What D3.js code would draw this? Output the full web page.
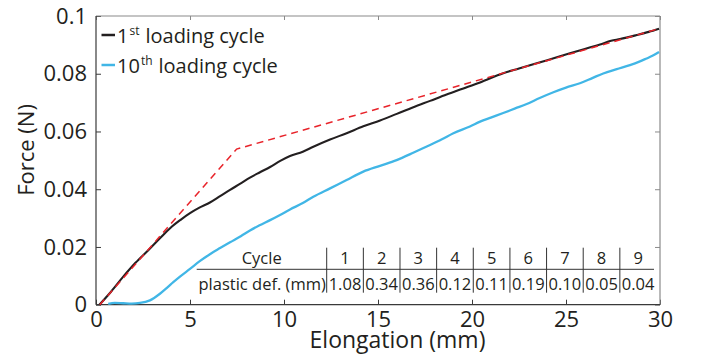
<!DOCTYPE html>
<html>
<head>
<meta charset="utf-8">
<script src="https://cdn.jsdelivr.net/npm/d3@7"></script>
<style>
  html, body { margin: 0; padding: 0; background: #fff; }
  svg { display: block; font-family: "Open Sans", "Noto Sans", sans-serif; }
</style>
</head>
<body>
<svg id="chart" width="702" height="356"></svg>
<script>
// ---------- data ----------
const xTicks = [0, 5, 10, 15, 20, 25, 30];
const xTickLabels = ["0", "5", "10", "15", "20", "25", "30"];
const yTicks = [0, 0.02, 0.04, 0.06, 0.08, 0.1];
const yTickLabels = ["0", "0.02", "0.04", "0.06", "0.08", "0.1"];

// 1st loading cycle (black)
const cycle1X = [0.18, 0.8, 1.45, 2.1, 2.78, 3.4, 3.94, 4.5, 5.0, 5.5, 6.06, 6.6, 7.13, 7.7, 8.19, 8.7, 9.26, 9.8, 10.32, 11.0, 11.56, 12.45, 13.33, 14.22, 15.11, 16.0, 16.88, 17.77, 18.65, 19.5, 20.43, 21.66, 22.5, 23.44, 24.3, 25.21, 26.0, 26.81, 27.4, 27.87, 28.76, 29.4, 29.95];
const cycle1F = [0.0, 0.0045, 0.0097, 0.0145, 0.0189, 0.0230, 0.0265, 0.0294, 0.0317, 0.0336, 0.0354, 0.0376, 0.0398, 0.0420, 0.0440, 0.0458, 0.0477, 0.0498, 0.0515, 0.0530, 0.0547, 0.0572, 0.0594, 0.0618, 0.0638, 0.0661, 0.0684, 0.0706, 0.0728, 0.0748, 0.0770, 0.0802, 0.0818, 0.0836, 0.0853, 0.0871, 0.0886, 0.0901, 0.0914, 0.0920, 0.0934, 0.0945, 0.0956];

// 10th loading cycle (blue)
const cycle10X = [0.65, 1.0, 1.45, 1.9, 2.34, 2.87, 3.4, 3.8, 4.11, 4.5, 5.0, 5.5, 6.06, 6.6, 7.13, 7.7, 8.19, 8.7, 9.26, 9.79, 10.32, 11.0, 11.56, 12.45, 13.33, 14.22, 15.11, 15.99, 16.9, 17.77, 18.4, 19.01, 19.89, 20.43, 21.0, 21.66, 22.3, 22.91, 23.6, 24.33, 25.0, 25.74, 26.4, 26.98, 27.7, 28.4, 28.9, 29.29, 29.6, 29.95];
const cycle10F = [0.0003, 0.0006, 0.0005, 0.0004, 0.0006, 0.0015, 0.0038, 0.0060, 0.0078, 0.0099, 0.0124, 0.0150, 0.0175, 0.0196, 0.0216, 0.0237, 0.0257, 0.0275, 0.0293, 0.0311, 0.0330, 0.0352, 0.0374, 0.0403, 0.0432, 0.0461, 0.0481, 0.0501, 0.0527, 0.0553, 0.0573, 0.0594, 0.0617, 0.0634, 0.0648, 0.0664, 0.0680, 0.0695, 0.0716, 0.0736, 0.0752, 0.0767, 0.0785, 0.0801, 0.0816, 0.0830, 0.0842, 0.0853, 0.0862, 0.0875];

// bilinear fit (red dashed)
const fitX = [0.2, 7.48, 30];
const fitF = [0.0, 0.0539, 0.0957];

// plastic deformation table
const cycles = ["1", "2", "3", "4", "5", "6", "7", "8", "9"];
const plasticDef = ["1.08", "0.34", "0.36", "0.12", "0.11", "0.19", "0.10", "0.05", "0.04"];

// ---------- layout ----------
const svg = d3.select("#chart");
const margin = { left: 96, right: 42, top: 16, bottom: 51.3 };
const W = 702, H = 356;
const x = d3.scaleLinear().domain([0, 30]).range([margin.left, W - margin.right]);
const y = d3.scaleLinear().domain([0, 0.1]).range([H - margin.bottom, margin.top]);

const textColor = "#231f20";
const axisDark = "#3a3a3a";
const axisLight = "#8a8a8a";

function styleAxis(g, color, labels) {
  g.select(".domain").remove();
  g.selectAll(".tick line").attr("stroke", color).attr("stroke-width", 1);
  g.selectAll(".tick text")
    .attr("fill", textColor)
    .attr("font-size", 22)
    .attr("font-family", "'Open Sans', sans-serif");
  if (!labels) g.selectAll(".tick text").remove();
}

svg.append("g")
  .attr("transform", `translate(0,${y(0)})`)
  .call(d3.axisBottom(x).tickValues(xTicks).tickFormat((d, i) => xTickLabels[i]).tickSizeInner(-5).tickSizeOuter(0).tickPadding(6.5))
  .call(g => styleAxis(g, axisDark, true));

svg.append("g")
  .attr("transform", `translate(0,${y(0.1)})`)
  .call(d3.axisTop(x).tickValues(xTicks).tickSizeInner(-4).tickSizeOuter(0))
  .call(g => styleAxis(g, axisLight, false));

svg.append("g")
  .attr("transform", `translate(${x(0)},0)`)
  .call(d3.axisLeft(y).tickValues(yTicks).tickFormat((d, i) => yTickLabels[i]).tickSizeInner(-5).tickSizeOuter(0).tickPadding(9))
  .call(g => styleAxis(g, axisDark, true));

svg.append("g")
  .attr("transform", `translate(${x(30)},0)`)
  .call(d3.axisRight(y).tickValues(yTicks).tickSizeInner(-5).tickSizeOuter(0))
  .call(g => styleAxis(g, axisLight, false));

// frame lines
svg.append("line").attr("x1", x(0)).attr("x2", x(30)).attr("y1", y(0.1)).attr("y2", y(0.1)).attr("stroke", axisLight).attr("stroke-width", 1.2);
svg.append("line").attr("x1", x(30)).attr("x2", x(30)).attr("y1", y(0)).attr("y2", y(0.1)).attr("stroke", axisLight).attr("stroke-width", 1.2);
svg.append("line").attr("x1", x(0)).attr("x2", x(0)).attr("y1", y(0)).attr("y2", y(0.1)).attr("stroke", axisDark).attr("stroke-width", 1.2);
svg.append("line").attr("x1", x(0)).attr("x2", x(30)).attr("y1", y(0)).attr("y2", y(0)).attr("stroke", axisDark).attr("stroke-width", 1.2);

// axis titles
svg.append("text")
  .attr("x", x(15) + 19.5).attr("y", 348)
  .attr("text-anchor", "middle")
  .attr("font-size", 23).attr("fill", textColor)
  .text("Elongation (mm)");

svg.append("text")
  .attr("transform", `translate(34,${150}) rotate(-90)`)
  .attr("text-anchor", "middle")
  .attr("font-size", 22).attr("fill", textColor)
  .text("Force (N)");

// lines
const line = d3.line().x(d => x(d[0])).y(d => y(d[1])).curve(d3.curveMonotoneX);
const zip = (a, b) => a.map((v, i) => [v, b[i]]);

svg.append("path")
  .datum(zip(cycle10X, cycle10F))
  .attr("d", line).attr("fill", "none")
  .attr("stroke", "#41b6e6").attr("stroke-width", 2.3);

svg.append("path")
  .datum(zip(cycle1X, cycle1F))
  .attr("d", line).attr("fill", "none")
  .attr("stroke", "#231f20").attr("stroke-width", 2.1);

svg.append("path")
  .datum(zip(fitX, fitF))
  .attr("d", d3.line().x(d => x(d[0])).y(d => y(d[1])))
  .attr("fill", "none")
  .attr("stroke", "#e8232a").attr("stroke-width", 1.5)
  .attr("stroke-dasharray", "7,5");

// legend
const legend = [
  { num: "1", sup: "st", color: "#231f20", yy: 35 },
  { num: "10", sup: "th", color: "#41b6e6", yy: 65 }
];
legend.forEach(L => {
  svg.append("line")
    .attr("x1", 101.5).attr("x2", 115).attr("y1", L.yy).attr("y2", L.yy)
    .attr("stroke", L.color).attr("stroke-width", 2.5);
  const t = svg.append("text")
    .attr("x", 117).attr("y", L.yy + 8)
    .attr("font-size", 20).attr("fill", textColor);
  t.append("tspan").text(L.num);
  t.append("tspan").attr("font-size", 12).attr("dy", -8).attr("dx", 1).text(L.sup);
  t.append("tspan").attr("dy", 8).attr("dx", 6).text("loading cycle");
});

// table
const tLeft = 196.7, tSep = 326.7, tRight = 656.5;
const rowTop = 247.7, rowMid = 269.3, rowBot = 292.7;
const colScale = d3.scaleBand().domain(cycles).range([tSep, tRight]);
const tbl = svg.append("g").attr("font-size", 16.5).attr("fill", textColor);

tbl.append("line").attr("x1", tLeft).attr("x2", 654).attr("y1", rowMid).attr("y2", rowMid)
  .attr("stroke", "#333").attr("stroke-width", 1);
tbl.selectAll("line.sep").data(cycles).join("line").attr("class", "sep")
  .attr("x1", d => colScale(d)).attr("x2", d => colScale(d))
  .attr("y1", rowTop).attr("y2", rowBot)
  .attr("stroke", "#333").attr("stroke-width", 1);

tbl.append("text").attr("x", (tLeft + tSep) / 2).attr("y", 263.5).attr("text-anchor", "middle").text("Cycle");
tbl.append("text").attr("x", (tLeft + tSep) / 2 + 0.5).attr("y", 289.5).attr("text-anchor", "middle").text("plastic def. (mm)");

tbl.selectAll("text.cyc").data(cycles).join("text").attr("class", "cyc")
  .attr("x", d => colScale(d) + colScale.bandwidth() / 2).attr("y", 263.5)
  .attr("text-anchor", "middle").text(d => d);
tbl.selectAll("text.pd").data(plasticDef).join("text").attr("class", "pd")
  .attr("x", (d, i) => colScale(cycles[i]) + colScale.bandwidth() / 2).attr("y", 289.5)
  .attr("text-anchor", "middle").text(d => d);
</script>
</body>
</html>
